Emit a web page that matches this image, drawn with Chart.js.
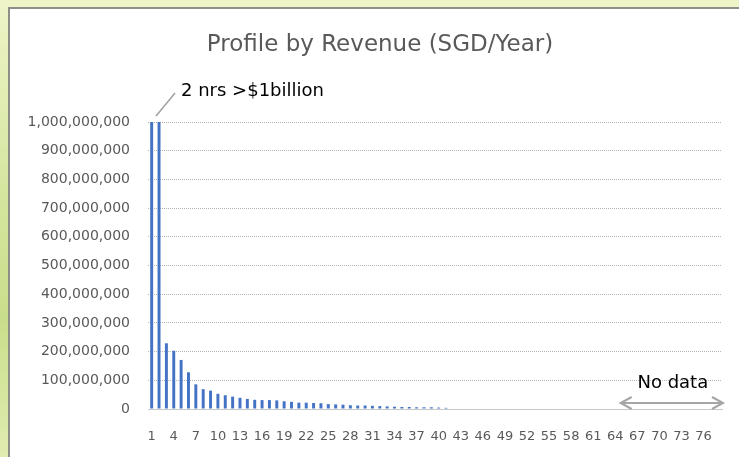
<!DOCTYPE html>
<html>
<head>
<meta charset="utf-8">
<script src="https://cdn.jsdelivr.net/npm/chart.js@4"></script>
<style>
  html, body { margin: 0; padding: 0; }
  body {
    width: 739px; height: 457px; overflow: hidden; position: relative;
    background: linear-gradient(180deg, #eef4c8 0%, #d3e59c 45%, #c9de8c 70%, #e0ecb0 100%);
  }
  #frame {
    position: absolute; left: 8px; top: 7px; width: 731px; height: 450px;
    background: #ffffff;
    border-left: 2px solid #8e8e86; border-top: 2px solid #8e8e86;
    box-sizing: border-box;
  }
  #wrap { position: absolute; left: 0; top: 0; width: 729px; height: 448px; }
</style>
</head>
<body>
<div id="frame"><div id="wrap"><canvas id="c" width="729" height="448"></canvas></div></div>
<script>
// ---- data ----
const titleText = "Profile by Revenue (SGD/Year)";
const noteTop = "2 nrs >$1billion";
const noteNoData = "No data";
const categories = [];
for (let i = 1; i <= 78; i++) categories.push(String(i));
// revenue per rank (SGD/year); first two exceed the 1 billion axis maximum
const revenue = [
  1200000000, 1100000000, 229000000, 203000000, 171000000, 128000000, 86000000, 69000000,
  64000000, 53000000, 48000000, 43000000, 39000000, 35000000, 32000000, 31000000,
  31000000, 30000000, 27000000, 25000000, 22000000, 22000000, 21000000, 20000000,
  17000000, 16000000, 15000000, 13000000, 12000000, 12000000, 11000000, 10000000,
  9000000, 8000000, 7000000, 7000000, 6000000, 6000000, 6000000, 5000000, 4000000
];
while (revenue.length < categories.length) revenue.push(null);
const yMax = 1000000000;
const yStep = 100000000;

const FONT = "'DejaVu Sans', sans-serif";

const decorPlugin = {
  id: 'decor',
  afterDraw(chart) {
    const ctx = chart.ctx;
    const xs = chart.scales.x, ys = chart.scales.y, area = chart.chartArea;
    ctx.save();
    // title
    ctx.fillStyle = '#595959';
    ctx.font = "23px " + FONT;
    ctx.textAlign = 'center';
    ctx.textBaseline = 'middle';
    ctx.fillText(titleText, 370, 36);

    // annotation for the two bars above 1 billion
    const bx = xs.getPixelForValue(1) - 3;
    const by = area.top - 6;
    ctx.strokeStyle = '#a0a0a0';
    ctx.lineWidth = 1.5;
    ctx.beginPath();
    ctx.moveTo(bx, by);
    ctx.lineTo(bx + 19, by - 23);
    ctx.stroke();
    ctx.fillStyle = '#000000';
    ctx.font = "18px " + FONT;
    ctx.textAlign = 'left';
    ctx.textBaseline = 'middle';
    ctx.fillText(noteTop, bx + 25, by - 25);

    // "No data" double arrow
    const ax0 = xs.getPixelForValue(64) - 2;
    const ax1 = area.right + 1;
    const ay = ys.getPixelForValue(0) - 6;
    ctx.strokeStyle = '#a6a6a6';
    ctx.lineWidth = 2;
    ctx.beginPath();
    ctx.moveTo(ax0, ay); ctx.lineTo(ax1, ay);
    ctx.moveTo(ax0 + 11, ay - 6); ctx.lineTo(ax0, ay); ctx.lineTo(ax0 + 11, ay + 6);
    ctx.moveTo(ax1 - 11, ay - 6); ctx.lineTo(ax1, ay); ctx.lineTo(ax1 - 11, ay + 6);
    ctx.stroke();
    ctx.fillStyle = '#000000';
    ctx.font = "18px " + FONT;
    ctx.textAlign = 'center';
    ctx.fillText(noteNoData, (ax0 + ax1) / 2 + 1, ay - 20);
    ctx.restore();
  }
};

new Chart(document.getElementById('c'), {
  type: 'bar',
  data: {
    labels: categories,
    datasets: [{
      data: revenue,
      backgroundColor: '#4472C4',
      borderWidth: 0,
      barPercentage: 0.4,
      categoryPercentage: 1.0,
      clip: 0
    }]
  },
  options: {
    responsive: false,
    animation: false,
    events: [],
    layout: { padding: { top: 113, right: 17, bottom: 0, left: 0 } },
    plugins: { legend: { display: false }, title: { display: false }, tooltip: { enabled: false } },
    scales: {
      x: {
        grid: { display: false, drawTicks: false },
        border: { display: true, color: '#c8c8c8', width: 1 },
        ticks: {
          autoSkip: false, maxRotation: 0, minRotation: 0, padding: 20,
          color: '#595959', font: { family: FONT, size: 13 },
          callback: function (v, i) { return i % 3 === 0 ? this.getLabelForValue(v) : ''; }
        },
        afterFit: (s) => { s.height = 48; }
      },
      y: {
        min: 0, max: yMax,
        grid: { color: '#b4b4b4', lineWidth: 1, drawTicks: false },
        border: { display: false, dash: [1, 1] },
        ticks: {
          stepSize: yStep, padding: 18,
          color: '#595959', font: { family: FONT, size: 14 },
          callback: (v) => v.toLocaleString('en-US')
        },
        afterFit: (s) => { s.width = 138; }
      }
    }
  },
  plugins: [decorPlugin]
});
</script>
</body>
</html>
